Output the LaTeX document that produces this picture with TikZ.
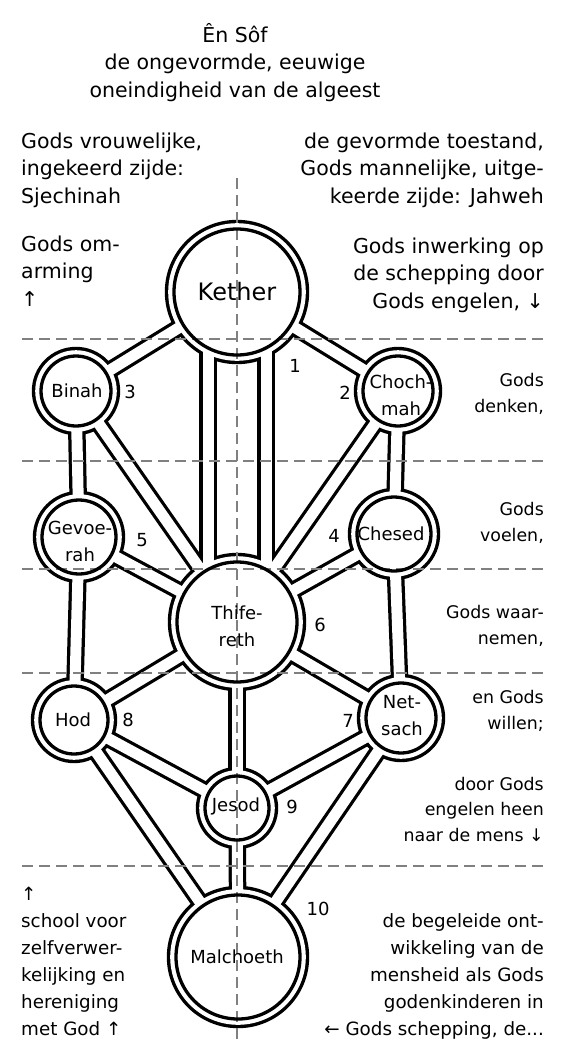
\documentclass[tikz,border=0pt]{standalone}
\usepackage{fontspec}
\setmainfont{DejaVu Sans}
\tikzset{
  padzwart/.style={line width=17.5pt},
  padwit/.style={line width=11pt, white},
  hulplijn/.style={draw=black!50, line width=2.3pt, dash pattern=on 11pt off 6pt},
  sefnaam/.style={font=\fontsize{18}{27}\selectfont, align=center, inner sep=0pt},
  nummer/.style={font=\fontsize{18}{20}\selectfont, inner sep=0pt},
  groot/.style={font=\fontsize{20.5}{27.3}\selectfont, inner sep=0pt},
  klein/.style={font=\fontsize{17.4}{25.5}\selectfont, inner sep=0pt, align=right, anchor=base east},
  onder/.style={font=\fontsize{18.3}{27}\selectfont, inner sep=0pt},
}
% naam/x/y/straal
\newcommand\sefirot{kether/237/292/63, binah/76/391/35, chochmah/398/391/35,
  gevoerah/79/537/37, chesed/394/534/37, thifereth/237/622/60,
  hod/74/720/34, netsach/401/718/35, jesod/237/808/32, malchoeth/238/957/62}
\newcommand\paden{kether/binah, kether/chochmah, ketherL/thiferethL, ketherR/thiferethR,
  binah/gevoerah, binah/thifereth, chochmah/chesed, chochmah/thifereth,
  gevoerah/thifereth, gevoerah/hod, chesed/thifereth, chesed/netsach,
  thifereth/hod, thifereth/netsach, thifereth/jesod, hod/jesod, netsach/jesod,
  hod/malchoeth, netsach/malchoeth, jesod/malchoeth}

\begin{document}
\begin{tikzpicture}[x=1pt,y=-1pt]
  \useasboundingbox (0,0) rectangle (564,1060);
  \foreach \n/\x/\y/\r in \sefirot \coordinate (\n) at (\x,\y);
  \coordinate (ketherL) at (208,300);    \coordinate (thiferethL) at (208,612);
  \coordinate (ketherR) at (266,300);    \coordinate (thiferethR) at (266,612);
  % zwarte buitenrand
  \foreach \a/\b in \paden \draw[padzwart] (\a) -- (\b);
  \foreach \n/\x/\y/\r in \sefirot \fill (\n) circle[radius=\r pt+9.2pt];
  % witte binnenkant
  \foreach \a/\b in \paden \draw[padwit] (\a) -- (\b);
  \foreach \n/\x/\y/\r in \sefirot \fill[white] (\n) circle[radius=\r pt+5.8pt];
  % hulplijnen
  \foreach \y in {339,461,569,673,866} \draw[hulplijn] (22,\y) -- (548,\y);
  \draw[hulplijn] (237,178) -- (237,1040);
  \foreach \n/\x/\y/\r in \sefirot \draw[line width=3.3pt] (\n) circle[radius=\r pt];

  \node[sefnaam, font=\fontsize{24}{27}\selectfont] (kether-t) at (237,292) {Kether};
  \node[sefnaam] (binah-t) at (77,391) {Binah};
  \node[sefnaam] (chochmah-t) at (401,395) {Choch-\\mah};
  \node[sefnaam] (gevoerah-t) at (80,541) {Gevoe-\\rah};
  \node[sefnaam] (chesed-t) at (391,534) {Chesed};
  \node[sefnaam] (thifereth-t) at (237,626) {Thife-\\reth};
  \node[sefnaam] (hod-t) at (73,720) {Hod};
  \node[sefnaam] (netsach-t) at (402,716) {Net-\\sach};
  \node[sefnaam] (jesod-t) at (236,806) {Jesod};
  \node[sefnaam] (malchoeth-t) at (237,957) {Malchoeth};

  \foreach \i/\x/\y in {1/295/366, 2/345/393, 3/130/392, 4/334/536, 5/142/540,
    6/320/625, 7/348/721, 8/128/720, 9/292/807, 10/318/909}
    \node[nummer] (nr\i) at (\x,\y) {\i};

  % anker = basislijn van de laatste regel
  \node[groot, align=center, anchor=base] (ensof) at (235,97)
    {Ên Sôf\\de ongevormde, eeuwige\\oneindigheid van de algeest};
  \node[groot, align=left, anchor=base west] (vrouwelijk) at (21,203)
    {Gods vrouwelijke,\\ingekeerd zijde:\\Sjechinah};
  \node[groot, align=right, anchor=base east] (mannelijk) at (544,203)
    {de gevormde toestand,\\Gods mannelijke, uitge-\\keerde zijde: Jahweh};
  \node[groot, align=left, anchor=base west] (omarming) at (21,306)
    {Gods om-\\arming\\↑};
  \node[groot, align=right, anchor=base east] (inwerking) at (544,308)
    {Gods inwerking op\\de schepping door\\Gods engelen, ↓};

  \node[klein] (denken) at (544,412) {Gods\\denken,};
  \node[klein] (voelen) at (544,541) {Gods\\voelen,};
  \node[klein] (waarnemen) at (544,644) {Gods waar-\\nemen,};
  \node[klein] (willen) at (544,729) {en Gods\\willen;};
  \node[klein] (mens) at (544,841) {door Gods\\engelen heen\\naar de mens ↓};

  \node[onder, align=left, anchor=base west] (school) at (21,1035)
    {↑\\school voor\\zelfverwer-\\kelijking en\\hereniging\\met God ↑};
  \node[onder, align=right, anchor=base east] (ontwikkeling) at (544,1035)
    {de begeleide ont-\\wikkeling van de\\mensheid als Gods\\godenkinderen in\\← Gods schepping, de...};
\end{tikzpicture}
\end{document}
